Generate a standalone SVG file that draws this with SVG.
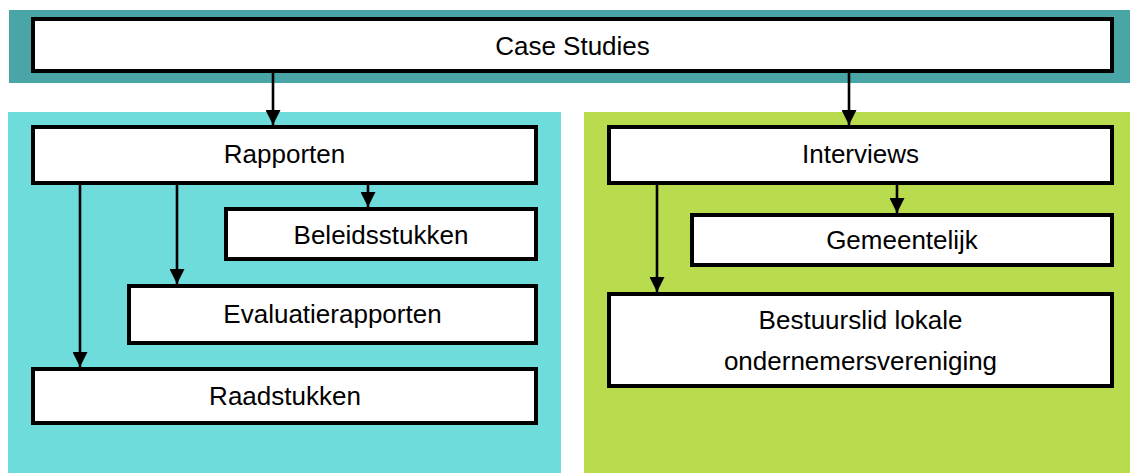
<svg xmlns="http://www.w3.org/2000/svg" width="1130" height="473" viewBox="0 0 1130 473">
<defs>
<style>
.box{fill:#ffffff;stroke:#000000;stroke-width:4}
.lbl{font-family:"Liberation Sans",Arial,sans-serif;font-size:26px;fill:#000000;text-anchor:middle}
.conn{stroke:#000000;stroke-width:2.6;fill:none}
</style>
<marker id="ah" markerUnits="userSpaceOnUse" markerWidth="15" markerHeight="15" refX="15" refY="7.5" orient="auto">
<path d="M0,0 L15,7.5 L0,15 Z" fill="#000000"/>
</marker>
</defs>
<rect width="1130" height="473" fill="#ffffff"/>
<g id="panels">
<rect x="9" y="10" width="1121" height="73" fill="#4AA6A6"/>
<rect x="8" y="112" width="553" height="361" fill="#6EDCDA"/>
<rect x="584" y="112" width="546" height="361" fill="#B9DC4F"/>
</g>
<g id="node-case-studies">
<rect class="box" x="33" y="19" width="1079" height="52"/>
<text class="lbl" x="572.5" y="55">Case Studies</text>
</g>
<g id="node-rapporten">
<rect class="box" x="33" y="127" width="503" height="56"/>
<text class="lbl" x="284.5" y="163">Rapporten</text>
</g>
<g id="node-beleidsstukken">
<rect class="box" x="226" y="209" width="310" height="50"/>
<text class="lbl" x="381" y="244">Beleidsstukken</text>
</g>
<g id="node-evaluatierapporten">
<rect class="box" x="129" y="286" width="407" height="57"/>
<text class="lbl" x="332.5" y="323">Evaluatierapporten</text>
</g>
<g id="node-raadstukken">
<rect class="box" x="33" y="369" width="503" height="54"/>
<text class="lbl" x="285" y="405">Raadstukken</text>
</g>
<g id="node-interviews">
<rect class="box" x="609" y="127" width="503" height="56"/>
<text class="lbl" x="860.5" y="163">Interviews</text>
</g>
<g id="node-gemeentelijk">
<rect class="box" x="692" y="215" width="420" height="50"/>
<text class="lbl" x="902" y="249">Gemeentelijk</text>
</g>
<g id="node-bestuurslid">
<rect class="box" x="609" y="294" width="503" height="92"/>
<text class="lbl" x="860.5" y="329">Bestuurslid lokale</text>
<text class="lbl" x="860.5" y="370">ondernemersvereniging</text>
</g>
<g id="connectors">
<line class="conn" x1="273" y1="71" x2="273" y2="125" marker-end="url(#ah)"/>
<line class="conn" x1="849" y1="71" x2="849" y2="125" marker-end="url(#ah)"/>
<line class="conn" x1="368" y1="185" x2="368" y2="207" marker-end="url(#ah)"/>
<line class="conn" x1="177" y1="185" x2="177" y2="284" marker-end="url(#ah)"/>
<line class="conn" x1="80" y1="185" x2="80" y2="367" marker-end="url(#ah)"/>
<line class="conn" x1="897" y1="185" x2="897" y2="213" marker-end="url(#ah)"/>
<line class="conn" x1="657" y1="185" x2="657" y2="292" marker-end="url(#ah)"/>
</g>
</svg>
